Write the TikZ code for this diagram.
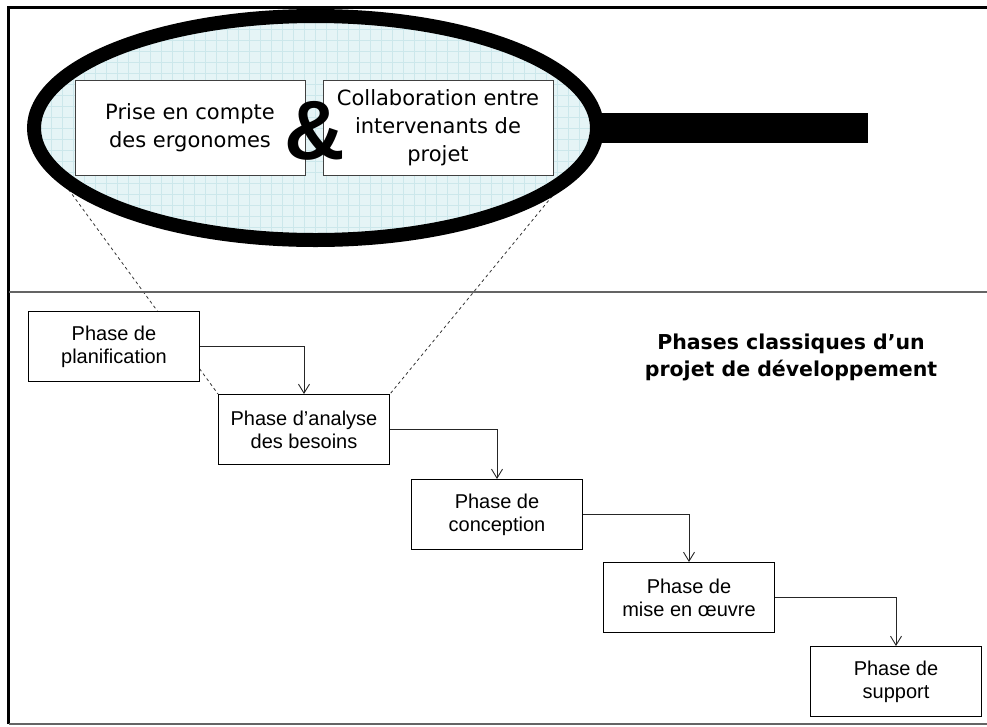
\documentclass[tikz,border=0pt]{standalone}
\usepackage{fontspec}
\setmainfont{Liberation Sans}
\newfontfamily\handfont{DejaVu Sans}
\usepackage{tikz}
\usetikzlibrary{arrows.meta, positioning, shapes.geometric, backgrounds}
\definecolor{LensFill}{RGB}{229, 244, 246}
\definecolor{LensGrid}{RGB}{204, 231, 235}
\definecolor{FrameGray}{RGB}{100, 100, 100}

\begin{document}
\begin{tikzpicture}[
          x=1pt, y=-1pt,
          phase/.style={rectangle, draw=black, line width=1pt, fill=white, minimum width=171pt, minimum height=70pt, inner sep=2pt, align=center, font=\fontsize{20}{23}\selectfont},
          lensbox/.style={rectangle, draw=black!75, line width=1pt, fill=white, minimum width=230pt, minimum height=95pt, inner sep=2pt, align=center, font=\handfont\fontsize{21}{28}\selectfont},
          lens/.style={ellipse, draw=black, line width=14pt, fill=LensFill, minimum width=563pt, minimum height=224pt, inner sep=0pt,
            path picture={\draw[LensGrid, line width=0.6pt, step=11pt] (path picture bounding box.south west) grid (path picture bounding box.north east);}},
          flow/.style={-{Straight Barb[length=9pt, width=11pt]}, line width=0.9pt, black!85},
          zoomline/.style={dash pattern=on 3pt off 3pt, line width=0.8pt, black!80}
        ]
          \useasboundingbox (0,0) rectangle (987,726);
          \draw[line width=3pt] (8,724) -- (8,7) -- (987,7);
          \draw[FrameGray, line width=2pt] (9,292) -- (987,292);
          \draw[FrameGray, line width=2pt] (9,724) -- (987,724);

          \node[lens] (lens) at (315.5,128) {};
          \node[fill=black, minimum width=266pt, minimum height=30pt, inner sep=0pt, anchor=west] (handle) at (602,128) {};
          \node[lensbox] (ergo) at (190,127.5) {Prise en compte\\des ergonomes};
          \node[lensbox] (collab) at (438,127.5) {Collaboration entre\\intervenants de\\projet};
          \node[font=\bfseries\fontsize{84}{84}\selectfont, inner sep=0pt] (amp) at (315,131) {\&};

          \node[font=\handfont\bfseries\fontsize{20.5}{27}\selectfont, align=center] (title) at (791,357) {Phases classiques d’un\\projet de développement};

          \node[phase, anchor=north west] (plan) at (28,311) {Phase de\\planification};
          \node[phase, below right=12pt and 18pt of plan] (analyse) {Phase d’analyse\\des besoins};
          \node[phase, below right=14pt and 21pt of analyse] (concept) {Phase de\\conception};
          \node[phase, below right=12pt and 20pt of concept] (mise) {Phase de\\mise en œuvre};
          \node[phase, below right=13pt and 35pt of mise] (support) {Phase de\\support};

          \draw[flow] (plan.east) -| (analyse.north);
          \draw[flow] (analyse.east) -| (concept.north);
          \draw[flow] (concept.east) -| (mise.north);
          \draw[flow] (mise.east) -| (support.north);

          \begin{scope}[on background layer]
            \draw[zoomline] (lens.194) -- (analyse.north west);
            \draw[zoomline] (lens.344) -- (analyse.north east);
          \end{scope}
        \end{tikzpicture}
\end{document}
